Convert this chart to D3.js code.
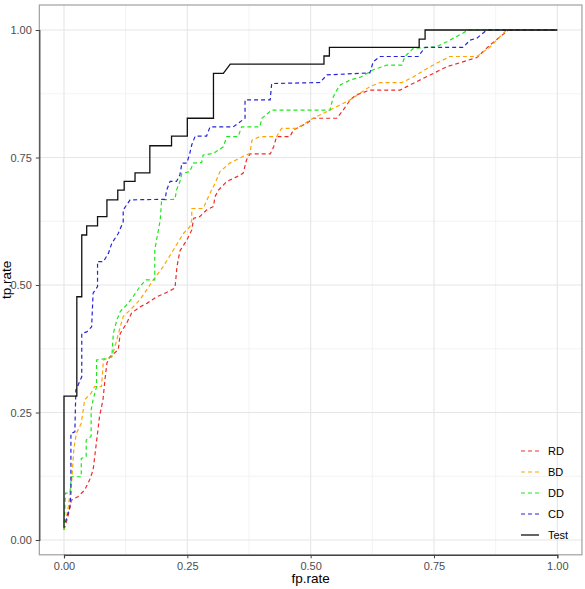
<!DOCTYPE html>
<html>
<head>
<meta charset="utf-8">
<script src="https://cdn.jsdelivr.net/npm/d3@7"></script>
<style>
  body { margin: 0; background: #fff; }
  svg text { font-family: "Liberation Sans", Arial, sans-serif; }
</style>
</head>
<body>
<div id="chart-area"></div>
<script>
// ROC curves, values
var seriesNames = ["RD", "BD", "DD", "CD", "Test"];
var seriesColors = ["#f02a2a", "#ffa500", "#1fe61f", "#2424d8", "#111111"];
var xTicks = [0, 0.25, 0.5, 0.75, 1];
var yTicks = [0, 0.25, 0.5, 0.75, 1];

var rdX = [0, 0.008, 0.015, 0.028, 0.042, 0.052, 0.059, 0.072, 0.079, 0.083, 0.087, 0.093, 0.110, 0.114, 0.127, 0.137, 0.154, 0.168, 0.188, 0.205, 0.225, 0.229, 0.235, 0.249, 0.259, 0.263, 0.275, 0.289, 0.303, 0.306, 0.313, 0.330, 0.350, 0.363, 0.370, 0.377, 0.418, 0.425, 0.431, 0.458, 0.465, 0.492, 0.505, 0.553, 0.566, 0.580, 0.593, 0.620, 0.641, 0.681, 0.695, 0.728, 0.776, 0.837, 0.864, 0.901, 1];
var rdY = [0.02, 0.046, 0.078, 0.085, 0.098, 0.118, 0.137, 0.242, 0.275, 0.314, 0.347, 0.359, 0.373, 0.405, 0.425, 0.445, 0.457, 0.464, 0.477, 0.484, 0.494, 0.536, 0.567, 0.588, 0.608, 0.631, 0.634, 0.647, 0.654, 0.673, 0.686, 0.703, 0.712, 0.719, 0.745, 0.757, 0.757, 0.771, 0.791, 0.791, 0.804, 0.817, 0.827, 0.827, 0.843, 0.863, 0.873, 0.882, 0.882, 0.882, 0.889, 0.905, 0.928, 0.946, 0.971, 1, 1];

var bdX = [0, 0.008, 0.016, 0.020, 0.025, 0.035, 0.042, 0.055, 0.062, 0.076, 0.080, 0.097, 0.107, 0.114, 0.120, 0.134, 0.154, 0.181, 0.201, 0.222, 0.242, 0.255, 0.259, 0.259, 0.282, 0.296, 0.306, 0.316, 0.336, 0.363, 0.377, 0.381, 0.397, 0.431, 0.441, 0.472, 0.505, 0.539, 0.580, 0.620, 0.641, 0.685, 0.708, 0.742, 0.782, 0.837, 0.864, 0.897, 1];
var bdY = [0.02, 0.06, 0.12, 0.18, 0.209, 0.229, 0.275, 0.288, 0.301, 0.301, 0.353, 0.359, 0.392, 0.418, 0.438, 0.451, 0.471, 0.510, 0.536, 0.569, 0.601, 0.614, 0.627, 0.650, 0.650, 0.680, 0.699, 0.722, 0.739, 0.752, 0.758, 0.784, 0.791, 0.791, 0.807, 0.807, 0.827, 0.843, 0.863, 0.889, 0.897, 0.897, 0.908, 0.928, 0.948, 0.948, 0.967, 1, 1];

var ddX = [0, 0.003, 0.012, 0.015, 0.035, 0.035, 0.045, 0.045, 0.055, 0.055, 0.059, 0.066, 0.066, 0.087, 0.097, 0.100, 0.107, 0.114, 0.130, 0.140, 0.154, 0.166, 0.184, 0.184, 0.195, 0.198, 0.225, 0.228, 0.235, 0.239, 0.255, 0.262, 0.279, 0.282, 0.303, 0.323, 0.330, 0.353, 0.360, 0.397, 0.401, 0.421, 0.539, 0.546, 0.553, 0.560, 0.580, 0.600, 0.627, 0.654, 0.685, 0.691, 0.708, 0.755, 0.776, 0.809, 0.819, 1];
var ddY = [0.02, 0.092, 0.092, 0.124, 0.124, 0.160, 0.163, 0.196, 0.203, 0.255, 0.275, 0.301, 0.353, 0.356, 0.359, 0.405, 0.431, 0.448, 0.464, 0.477, 0.497, 0.510, 0.510, 0.569, 0.627, 0.667, 0.668, 0.686, 0.703, 0.719, 0.722, 0.739, 0.740, 0.755, 0.758, 0.771, 0.791, 0.791, 0.810, 0.810, 0.827, 0.843, 0.843, 0.869, 0.882, 0.892, 0.902, 0.907, 0.922, 0.931, 0.931, 0.948, 0.964, 0.967, 0.977, 0.994, 1, 1];

var cdX = [0.003, 0.012, 0.014, 0.014, 0.022, 0.024, 0.036, 0.036, 0.046, 0.056, 0.059, 0.068, 0.068, 0.080, 0.090, 0.097, 0.110, 0.120, 0.120, 0.134, 0.205, 0.208, 0.215, 0.228, 0.235, 0.239, 0.249, 0.255, 0.259, 0.266, 0.289, 0.296, 0.343, 0.367, 0.367, 0.418, 0.421, 0.519, 0.533, 0.620, 0.627, 0.641, 0.718, 0.732, 0.809, 0.823, 0.837, 0.857, 1];
var cdY = [0.035, 0.065, 0.092, 0.209, 0.212, 0.294, 0.320, 0.405, 0.408, 0.418, 0.484, 0.497, 0.546, 0.546, 0.562, 0.582, 0.601, 0.624, 0.647, 0.667, 0.668, 0.686, 0.703, 0.703, 0.716, 0.739, 0.739, 0.758, 0.775, 0.792, 0.792, 0.810, 0.810, 0.827, 0.863, 0.863, 0.895, 0.897, 0.912, 0.916, 0.938, 0.948, 0.948, 0.966, 0.966, 0.980, 0.984, 1, 1];

var testX = [0, 0, 0.026, 0.026, 0.036, 0.036, 0.046, 0.046, 0.068, 0.068, 0.087, 0.087, 0.109, 0.109, 0.122, 0.122, 0.144, 0.144, 0.174, 0.174, 0.218, 0.218, 0.250, 0.250, 0.303, 0.303, 0.323, 0.337, 0.527, 0.527, 0.538, 0.538, 0.720, 0.720, 0.732, 0.732, 1];
var testY = [0.024, 0.282, 0.282, 0.477, 0.477, 0.598, 0.598, 0.616, 0.616, 0.634, 0.634, 0.667, 0.667, 0.686, 0.686, 0.703, 0.703, 0.720, 0.720, 0.773, 0.773, 0.792, 0.792, 0.827, 0.827, 0.915, 0.915, 0.933, 0.933, 0.949, 0.949, 0.966, 0.966, 0.982, 0.982, 1, 1];

var allX = [rdX, bdX, ddX, cdX, testX];
var allY = [rdY, bdY, ddY, cdY, testY];

var width = 585, height = 589;
var svg = d3.select("#chart-area").append("svg")
    .attr("width", width)
    .attr("height", height);

// scales, panel is data range padded by ggplot's expansion
var x = d3.scaleLinear().domain([0, 1]).range([64, 557.3]);
var y = d3.scaleLinear().domain([0, 1]).range([540, 30]);
var pLeft = x(-0.05), pRight = x(1.05), pTop = y(1.049), pBottom = y(-0.029);

// grid
var minorX = [0.125, 0.375, 0.625, 0.875];
var minorY = [0.125, 0.375, 0.625, 0.875];
var grid = svg.append("g");
grid.selectAll(".mx").data(minorX).enter().append("line")
    .attr("x1", d => x(d)).attr("x2", d => x(d))
    .attr("y1", pTop).attr("y2", pBottom)
    .attr("stroke", "#f0f0f0").attr("stroke-width", 0.8);
grid.selectAll(".my").data(minorY).enter().append("line")
    .attr("x1", pLeft).attr("x2", pRight)
    .attr("y1", d => y(d)).attr("y2", d => y(d))
    .attr("stroke", "#f0f0f0").attr("stroke-width", 0.8);
grid.selectAll(".gx").data(xTicks).enter().append("line")
    .attr("x1", d => x(d)).attr("x2", d => x(d))
    .attr("y1", pTop).attr("y2", pBottom)
    .attr("stroke", "#e6e6e6").attr("stroke-width", 1.1);
grid.selectAll(".gy").data(yTicks).enter().append("line")
    .attr("x1", pLeft).attr("x2", pRight)
    .attr("y1", d => y(d)).attr("y2", d => y(d))
    .attr("stroke", "#e6e6e6").attr("stroke-width", 1.1);

// curves
var line = d3.line()
    .x(d => x(d[0]))
    .y(d => y(d[1]));

seriesNames.forEach((name, i) => {
    var pts = allX[i].map((v, j) => [v, allY[i][j]]);
    svg.append("path")
        .datum(pts)
        .attr("fill", "none")
        .attr("stroke", seriesColors[i])
        .attr("stroke-width", name == "Test" ? 1.3 : 1.2)
        .attr("stroke-dasharray", name == "Test" ? null : "4,3")
        .attr("d", line);
});

// panel border
svg.append("rect")
    .attr("x", pLeft).attr("y", pTop)
    .attr("width", pRight - pLeft).attr("height", pBottom - pTop)
    .attr("fill", "none").attr("stroke", "#a0a0a0").attr("stroke-width", 1.2);

// axes
var xAxis = svg.append("g")
    .attr("transform", "translate(0," + pBottom + ")")
    .call(d3.axisBottom(x).tickValues(xTicks).tickFormat(d3.format(".2f")).tickSizeOuter(0).tickSize(3.5).tickPadding(4));
var yAxis = svg.append("g")
    .attr("transform", "translate(" + pLeft + ",0)")
    .call(d3.axisLeft(y).tickValues(yTicks).tickFormat(d3.format(".2f")).tickSizeOuter(0).tickSize(3.5).tickPadding(4));

[xAxis, yAxis].forEach(a => {
    a.select(".domain").attr("stroke", "#444").attr("stroke-width", 1.2);
    a.selectAll(".tick line").attr("stroke", "#444");
    a.selectAll(".tick text").attr("fill", "#4d4d4d").style("font-size", "11px")
        .style("font-family", "'Liberation Sans', Arial, sans-serif");
});

svg.append("text")
    .attr("x", (pLeft + pRight) / 2).attr("y", 583)
    .attr("text-anchor", "middle")
    .style("font-size", "13.5px")
    .text("fp.rate");
svg.append("text")
    .attr("transform", "translate(11," + ((pTop + pBottom) / 2) + ") rotate(-90)")
    .attr("text-anchor", "middle")
    .style("font-size", "13.5px")
    .text("tp.rate");

// legend
var legend = svg.append("g");
seriesNames.forEach((name, i) => {
    var ly = 451 + i * 21;
    legend.append("line")
        .attr("x1", 521).attr("x2", 539)
        .attr("y1", ly).attr("y2", ly)
        .attr("stroke", seriesColors[i])
        .attr("stroke-width", name == "Test" ? 1.3 : 1.2)
        .attr("stroke-dasharray", name == "Test" ? null : "4,3");
    legend.append("text")
        .attr("x", 548).attr("y", ly + 4)
        .style("font-size", "11px")
        .text(name);
});
</script>
</body>
</html>
